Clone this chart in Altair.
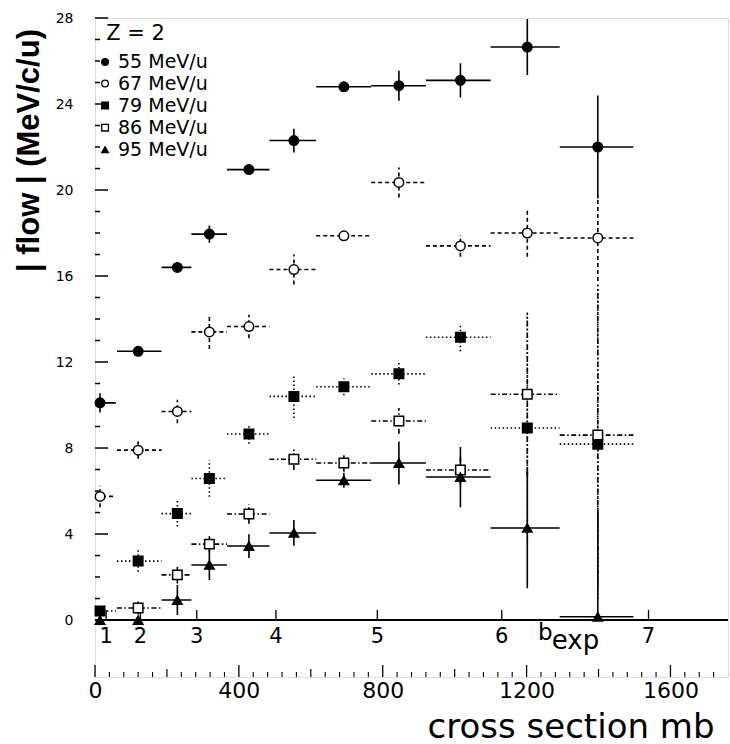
import altair as alt
import pandas as pd

W, H = 633, 659
XMAX = 1760
YMIN, YMAX = -2.65, 28

# bins in cross section (mb)
bin_center = [14, 120, 229, 318, 428, 553, 692, 845, 1016, 1202, 1398]
bin_lo = [0, 61, 185, 268, 367, 485, 615, 768, 920, 1100, 1292]
bin_hi = [58, 185, 268, 367, 485, 615, 768, 920, 1100, 1292, 1497]

series_names = ["55 MeV/u", "67 MeV/u", "79 MeV/u", "86 MeV/u", "95 MeV/u"]
flow_55 = [10.1, 12.5, 16.4, 17.95, 20.95, 22.3, 24.8, 24.85, 25.1, 26.65, 22.0]
err_55 = [0.45, 0.15, 0.2, 0.4, 0.2, 0.55, 0.2, 0.7, 0.8, 1.3, 2.4]
flow_67 = [5.75, 7.9, 9.7, 13.4, 13.65, 16.3, 17.87, 20.35, 17.4, 18.0, 17.77]
err_67 = [0.5, 0.4, 0.55, 0.8, 0.55, 0.7, 0.2, 0.7, 0.5, 1.1, 2.0]
flow_79 = [0.42, 2.74, 4.95, 6.58, 8.65, 10.4, 10.85, 11.45, 13.15, 8.93, 8.18]
err_79 = [0.1, 0.5, 0.6, 0.85, 0.45, 1.0, 0.4, 0.5, 0.65, 5.3, 7.2]
flow_86 = [None, 0.56, 2.1, 3.53, 4.93, 7.48, 7.3, 9.26, 6.98, 10.5, 8.6]
err_86 = [None, 0.3, 0.4, 0.4, 0.45, 0.5, 0.4, 0.6, 0.7, 3.8, 7.0]
flow_95 = [0.0, 0.0, 0.93, 2.56, 3.44, 4.05, 6.5, 7.3, 6.65, 4.28, 0.15]
err_95 = [0.0, 0.0, 0.7, 0.7, 0.55, 0.6, 0.35, 1.0, 1.4, 2.8, 5.0]

shapes = ["circle", "circle", "square", "square", "triangle-up"]
fills = ["black", "white", "black", "white", "black"]
dashes = [[1, 0], [4, 3], [1.5, 2.5], [5, 2.5, 1.5, 2.5], [1, 0]]

# legend block (placed in data coordinates, top-left of the frame)
legend_title = "Z = 2"
legend_title_pos = (31, 27.25)
legend_sym_x = 28
legend_text_x = 64
legend_rows_y = [25.95, 24.95, 23.93, 22.9, 21.87]

# b_exp axis (impact parameter, fm) positions on the cross-section scale
b_tick_cs = [31, 126, 283, 503, 785, 1131, 1539]
b_labels = ["1", "2", "3", "4", "5", "6", "7"]

y_major = [4, 8, 12, 16, 20, 24, 28]
y_minor = [1, 2, 3, 5, 6, 7, 9, 10, 11, 13, 14, 15, 17, 18, 19, 21, 22, 23, 25, 26, 27]
x_major = [0, 400, 800, 1200, 1600]
x_mid = [200, 600, 1000, 1400]
x_minor = [40, 80, 120, 160, 240, 280, 320, 360, 440, 480, 520, 560, 640, 680, 720, 760,
           840, 880, 920, 960, 1040, 1080, 1120, 1160, 1240, 1280, 1320, 1360,
           1440, 1480, 1520, 1560, 1640, 1680, 1720]

rows = []
for name, fl, er in zip(series_names,
                        [flow_55, flow_67, flow_79, flow_86, flow_95],
                        [err_55, err_67, err_79, err_86, err_95]):
    for c, lo, hi, v, e in zip(bin_center, bin_lo, bin_hi, fl, er):
        if v is None:
            continue
        rows.append(dict(series=name, style=name, cs=c, cs_lo=lo, cs_hi=hi, flow=v,
                         flow_lo=max(v - e, 0.0), flow_hi=v + e))
df = pd.DataFrame(rows)

xscale = alt.Scale(domain=[0, XMAX], nice=False, zero=False)
yscale = alt.Scale(domain=[YMIN, YMAX], nice=False, zero=False)

xaxis = alt.Axis(values=x_major, format="d", ticks=False, domain=False, grid=False,
                 labelFont="DejaVu Sans", labelFontSize=22, labelColor="black",
                 labelPadding=3, labelFlush=False,
                 title="cross section  mb", titleFont="DejaVu Sans", titleFontSize=34,
                 titleFontWeight="normal", titleColor="black",
                 titleX=619, titleY=60, titleAlign="right", titleBaseline="alphabetic",
                 titleAnchor="end")
yaxis = alt.Axis(values=[0, 4, 8, 12, 16, 20, 24, 28], ticks=False, domain=False, grid=False,
                 labelFont="DejaVu Sans", labelFontSize=14, labelColor="black",
                 labelPadding=22,
                 title="| flow | (MeV/c/u)", titleFont="Liberation Sans", titleFontSize=31,
                 titleFontWeight="bold", titleColor="black",
                 titleAngle=270, titleX=-66, titleY=132, titleAlign="center",
                 titleBaseline="middle")


def X(f):
    return alt.X(f, type="quantitative", scale=xscale, axis=xaxis)


def Y(f):
    return alt.Y(f, type="quantitative", scale=yscale, axis=yaxis)


shape_enc = alt.Shape("series:N", scale=alt.Scale(domain=series_names, range=shapes), legend=None)
fill_enc = alt.Fill("series:N", scale=alt.Scale(domain=series_names, range=fills), legend=None)
dash_enc = alt.StrokeDash("style:N", scale=alt.Scale(domain=series_names, range=dashes),
                          legend=None)

# y ticks (inside)
ytick_minor = alt.Chart(pd.DataFrame({"yt": y_minor})).mark_rule(color="black", strokeWidth=1.5).encode(
    y=Y("yt"), x=alt.value(0), x2=alt.value(5))
ytick_major = alt.Chart(pd.DataFrame({"yt": y_major})).mark_rule(color="black", strokeWidth=1.5).encode(
    y=Y("yt"), x=alt.value(0), x2=alt.value(13))

# bottom x ticks (inside, upward)
xt_major = alt.Chart(pd.DataFrame({"xt": x_major})).mark_rule(color="black", strokeWidth=1.3).encode(
    x=X("xt"), y=alt.value(H), y2=alt.value(H - 12))
xt_mid = alt.Chart(pd.DataFrame({"xt": x_mid})).mark_rule(color="black", strokeWidth=1.2).encode(
    x=X("xt"), y=alt.value(H), y2=alt.value(H - 8))
xt_minor = alt.Chart(pd.DataFrame({"xt": x_minor})).mark_rule(color="black", strokeWidth=1.1).encode(
    x=X("xt"), y=alt.value(H), y2=alt.value(H - 5))

# b_exp axis along flow = 0
bline = alt.Chart(pd.DataFrame({"x0": [0], "x1": [XMAX], "y0": [0.0]})).mark_rule(
    color="black", strokeWidth=2).encode(x=X("x0"), x2="x1", y=Y("y0"))
bdf = pd.DataFrame({"cs": b_tick_cs, "lab": b_labels, "y0": [0.0] * 7, "y1": [0.47] * 7,
                    "yl": [-0.78] * 7})
bticks = alt.Chart(bdf).mark_rule(color="black", strokeWidth=1.3).encode(
    x=X("cs"), y=Y("y0"), y2="y1")
blabels = alt.Chart(bdf).mark_text(font="DejaVu Sans", fontSize=21, color="black",
                                   baseline="middle", align="center").encode(
    x=X("cs"), y=Y("yl"), text="lab:N")
bexp_b = alt.Chart(pd.DataFrame({"cs": [1232], "yy": [-0.93], "t": ["b"]})).mark_text(
    font="DejaVu Sans", fontSize=23, color="black", baseline="alphabetic", align="left").encode(
    x=X("cs"), y=Y("yy"), text="t:N")
bexp_sub = alt.Chart(pd.DataFrame({"cs": [1270], "yy": [-1.35], "t": ["exp"]})).mark_text(
    font="DejaVu Sans", fontSize=26, color="black", baseline="alphabetic", align="left").encode(
    x=X("cs"), y=Y("yy"), text="t:N")

# error bars
xerr = alt.Chart(df).mark_rule(color="black", strokeWidth=1.6).encode(
    x=X("cs_lo"), x2="cs_hi", y=Y("flow"), strokeDash=dash_enc)
yerr = alt.Chart(df).mark_rule(color="black", strokeWidth=1.6).encode(
    x=X("cs"), y=Y("flow_lo"), y2="flow_hi", strokeDash=dash_enc)

points = alt.Chart(df).mark_point(filled=True, stroke="black", strokeWidth=1.5, opacity=1,
                                  size=90).encode(
    x=X("cs"), y=Y("flow"), shape=shape_enc, fill=fill_enc)

# legend
leg_df = pd.DataFrame({"series": series_names, "lx": [legend_sym_x] * 5,
                       "tx": [legend_text_x] * 5, "ly": legend_rows_y})
leg_sym = alt.Chart(leg_df).mark_point(filled=True, stroke="black", strokeWidth=1.3,
                                       opacity=1, size=45).encode(
    x=X("lx"), y=Y("ly"), shape=shape_enc, fill=fill_enc)
leg_txt = alt.Chart(leg_df).mark_text(font="DejaVu Sans", fontSize=19, color="black",
                                      align="left", baseline="middle").encode(
    x=X("tx"), y=Y("ly"), text="series:N")
leg_title = alt.Chart(pd.DataFrame({"tx": [legend_title_pos[0]], "ty": [legend_title_pos[1]],
                                    "t": [legend_title]})).mark_text(
    font="DejaVu Sans", fontSize=21, color="black", align="left", baseline="middle").encode(
    x=X("tx"), y=Y("ty"), text="t:N")

chart = alt.layer(
    ytick_minor, ytick_major, xt_major, xt_mid, xt_minor,
    bline, bticks, blabels, bexp_b, bexp_sub,
    xerr, yerr, points, leg_sym, leg_txt, leg_title,
).properties(
    width=W, height=H,
    autosize=alt.AutoSizeParams(type="none"),
    padding={"left": 95, "top": 18, "right": 2, "bottom": 67},
).configure_view(stroke="black", strokeWidth=2).configure(background="white")

chart.save("out.html", embed_options={"renderer": "svg", "actions": False})
